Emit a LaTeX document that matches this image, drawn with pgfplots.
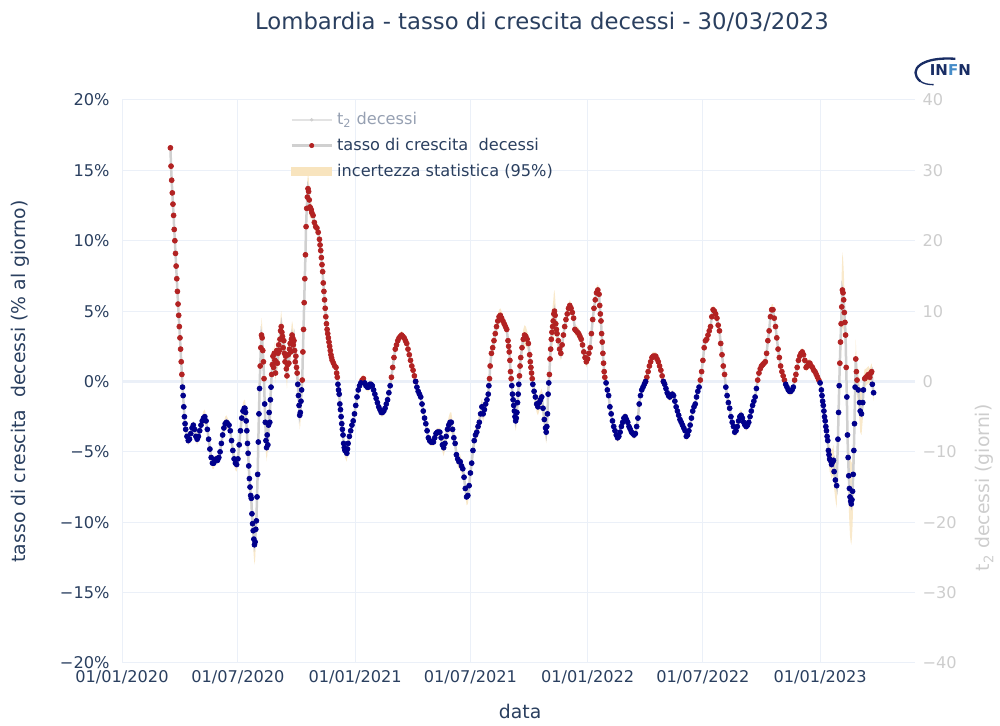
\documentclass[border=0pt]{standalone}
\usepackage{pgfplots}
\pgfplotsset{compat=1.18}
\usepackage{pgfplotstable}
\usepgfplotslibrary{fillbetween}
\usepackage{fontspec}
\setmainfont{DejaVu Sans}
\definecolor{textc}{RGB}{42,63,95}
\definecolor{gridc}{RGB}{235,240,248}
\definecolor{redc}{RGB}{178,34,34}
\definecolor{bluec}{RGB}{0,0,139}
\definecolor{linec}{RGB}{208,208,208}
\definecolor{bandc}{RGB}{248,228,190}
\definecolor{rightc}{RGB}{205,205,205}
\definecolor{legt2}{RGB}{150,160,178}
\definecolor{logob}{RGB}{25,45,100}
\definecolor{logol}{RGB}{70,140,200}

\pgfplotstableread[row sep=\\]{
d v e\\
76 16.6 .4\\77 15.3 .4\\78 14.3 .4\\79 13.4 .3\\80 12.6 .3\\81 11.8 .3\\82 10.8 .3\\83 10.0 .3\\84 9.1 .3\\85 8.2 .3\\86 7.3 .3\\87 6.4 .3\\88 5.5 .3\\89 4.7 .3\\90 3.9 .3\\91 3.1 .3\\92 2.3 .3\\93 1.4 .3\\94 0.5 .3\\95 -0.4 .3\\96 -1.0 .3\\97 -1.8 .3\\98 -2.5 .3\\99 -3.0 .3\\
100 -3.4 .3\\102 -3.9 .3\\104 -4.2 .3\\106 -4.1 .3\\108 -3.7 .3\\110 -3.3 .3\\112 -3.1 .3\\114 -3.4 .3\\116 -3.9 .4\\118 -4.1 .4\\120 -3.9 .3\\122 -3.5 .3\\124 -3.1 .3\\126 -2.8 .4\\128 -2.6 .5\\130 -2.5 .5\\132 -2.8 .4\\134 -3.4 .3\\136 -4.1 .3\\138 -4.8 .3\\140 -5.4 .4\\142 -5.8 .4\\144 -5.8 .4\\146 -5.6 .3\\148 -5.5 .3\\150 -5.6 .3\\152 -5.4 .3\\154 -5.0 .3\\156 -4.4 .3\\158 -3.8 .3\\160 -3.3 .4\\162 -3.0 .5\\164 -2.9 .5\\166 -3.0 .4\\168 -3.1 .3\\170 -3.5 .3\\172 -4.2 .3\\174 -4.9 .3\\176 -5.5 .4\\178 -5.8 .5\\180 -5.9 .5\\182 -5.5 .4\\184 -4.5 .4\\186 -3.5 .4\\188 -2.6 .5\\190 -2.1 .6\\192 -1.9 .6\\193 -1.9 .6\\
194 -2.2 .6\\195 -2.8 .6\\196 -3.5 .7\\197 -4.4 .7\\198 -5.1 .7\\199 -6.0 .8\\200 -6.9 .8\\201 -7.5 .9\\202 -8.1 .9\\203 -8.3 1.0\\204 -9.4 1.0\\205 -10.1 1.1\\206 -10.6 1.2\\207 -11.2 1.3\\208 -11.6 1.4\\209 -11.4 1.3\\210 -10.5 1.2\\211 -9.9 1.0\\212 -8.2 .9\\213 -6.6 .8\\214 -4.3 .8\\215 -2.3 .8\\216 -0.5 .8\\217 1.1 .9\\218 2.4 1.0\\219 3.3 1.2\\220 3.1 1.0\\221 2.2 .8\\222 1.4 .7\\223 0.2 .7\\224 -1.6 .8\\225 -2.9 .8\\226 -4.2 .9\\227 -4.7 1.0\\228 -3.8 .9\\229 -4.5 .9\\230 -3.1 .8\\231 -2.2 .7\\232 -2.9 .8\\233 -1.3 .7\\234 -0.4 .7\\235 0.5 .7\\236 1.2 .7\\237 1.8 .7\\238 1.0 .7\\239 2.0 .8\\240 1.5 .7\\241 0.6 .7\\242 1.4 .7\\243 2.2 .8\\244 1.3 .7\\245 2.0 .8\\246 2.6 .8\\247 2.2 .8\\248 3.0 .9\\249 3.6 1.0\\250 3.9 1.1\\251 3.5 1.0\\252 3.2 .9\\253 2.4 .8\\254 2.9 .9\\255 2.0 .8\\256 1.4 .8\\257 1.8 .8\\258 0.9 .8\\259 0.4 .9\\260 1.2 .8\\261 1.9 .8\\262 1.3 .8\\263 2.3 .8\\264 2.7 .9\\265 2.1 .8\\266 3.0 .9\\267 3.3 1.0\\268 3.1 1.0\\269 2.6 .9\\270 2.9 .9\\271 2.2 .8\\272 1.4 .8\\273 1.8 .8\\274 1.0 .8\\275 0.6 .8\\276 -0.2 .8\\277 -1.0 .9\\278 -1.7 .9\\279 -2.4 1.0\\280 -2.2 .9\\281 -1.4 .8\\282 -0.6 .7\\283 0.1 .7\\
284 2.1 .7\\285 3.7 .7\\286 5.6 .8\\287 7.3 .8\\288 9.0 .9\\289 11.0 1.0\\290 12.3 1.1\\291 13.1 1.2\\292 13.7 1.3\\293 13.5 1.1\\294 12.9 .9\\295 12.4 .8\\296 12.3 .7\\297 12.2 .6\\298 12.0 .5\\300 11.8 .5\\302 11.3 .4\\304 11.0 .4\\306 10.9 .4\\308 10.6 .4\\310 10.1 .3\\311 9.7 .3\\312 9.3 .3\\313 8.8 .3\\314 8.3 .3\\315 7.8 .3\\316 7.0 .3\\317 6.4 .3\\318 5.8 .3\\319 5.2 .3\\320 4.6 .3\\321 4.1 .3\\322 3.7 .3\\323 3.4 .3\\324 3.1 .3\\325 2.8 .3\\326 2.5 .3\\327 2.2 .3\\328 1.9 .3\\329 1.7 .3\\330 1.5 .3\\332 1.3 .3\\334 1.1 .3\\336 1.0 .3\\337 0.6 .3\\338 0.3 .3\\339 -0.2 .3\\340 -0.6 .3\\341 -0.9 .3\\342 -1.6 .3\\343 -2.0 .3\\344 -2.5 .3\\345 -3.0 .3\\346 -3.4 .3\\347 -3.8 .4\\348 -4.4 .4\\349 -4.7 .5\\350 -4.9 .5\\352 -5.0 .6\\353 -5.1 .6\\354 -4.8 .5\\355 -4.4 .4\\357 -3.9 .3\\359 -3.5 .3\\361 -3.1 .3\\363 -2.8 .3\\365 -2.3 .3\\367 -1.7 .3\\369 -1.1 .3\\371 -0.6 .3\\373 -0.3 .3\\375 -0.1 .3\\377 0.1 .3\\379 0.2 .3\\381 -0.1 .3\\383 -0.3 .3\\385 -0.4 .3\\387 -0.4 .3\\389 -0.2 .3\\391 -0.2 .3\\393 -0.3 .3\\395 -0.6 .3\\397 -0.9 .3\\399 -1.2 .3\\401 -1.5 .3\\403 -1.8 .3\\405 -2.0 .3\\407 -2.2 .3\\409 -2.2 .3\\411 -2.1 .3\\413 -1.9 .3\\415 -1.6 .3\\417 -1.3 .3\\419 -0.8 .3\\421 -0.3 .3\\423 0.3 .3\\425 1.0 .3\\427 1.7 .3\\429 2.3 .3\\431 2.6 .3\\433 2.9 .3\\435 3.1 .3\\437 3.2 .3\\439 3.3 .3\\441 3.2 .3\\443 3.1 .3\\445 2.9 .3\\447 2.7 .3\\449 2.3 .3\\451 1.9 .3\\453 1.5 .3\\455 1.1 .3\\457 0.8 .3\\459 0.4 .3\\461 0.0 .3\\463 -0.4 .3\\465 -0.7 .3\\467 -0.9 .3\\469 -1.1 .3\\471 -1.6 .3\\473 -2.1 .3\\475 -2.6 .3\\477 -3.0 .3\\479 -3.5 .3\\481 -4.0 .3\\483 -4.2 .3\\485 -4.3 .3\\487 -4.3 .3\\489 -4.3 .3\\491 -4.0 .3\\493 -3.7 .3\\495 -3.6 .3\\497 -3.6 .3\\499 -3.6 .3\\
501 -4.0 .4\\503 -4.5 .5\\505 -4.7 .6\\507 -4.4 .5\\509 -3.9 .5\\511 -3.4 .5\\513 -3.1 .6\\515 -2.9 .7\\517 -2.9 .7\\519 -3.4 .6\\521 -4.0 .5\\523 -4.4 .5\\525 -5.2 .5\\527 -5.5 .5\\529 -5.7 .5\\531 -5.7 .5\\533 -6.0 .5\\535 -6.2 .5\\537 -6.8 .5\\539 -7.6 .5\\541 -8.2 .6\\543 -8.1 .6\\545 -7.4 .5\\547 -6.5 .5\\549 -5.8 .5\\551 -4.9 .5\\553 -4.2 .5\\555 -3.8 .5\\557 -3.6 .6\\559 -3.2 .6\\561 -2.9 .6\\563 -2.3 .6\\565 -1.8 .6\\567 -2.3 .6\\569 -2.0 .5\\571 -1.6 .5\\573 -1.3 .5\\575 -0.9 .5\\576 -0.3 .5\\577 0.2 .5\\578 1.1 .5\\580 2.0 .5\\582 2.4 .5\\584 2.9 .5\\586 3.4 .5\\588 3.9 .5\\590 4.3 .5\\592 4.6 .5\\594 4.7 .5\\596 4.5 .5\\598 4.3 .4\\600 4.1 .4\\602 3.9 .4\\604 3.7 .4\\606 2.9 .5\\607 2.5 .5\\608 2.1 .5\\609 1.5 .5\\610 0.7 .5\\611 0.2 .5\\612 -0.3 .5\\613 -0.9 .5\\614 -1.3 .6\\615 -1.7 .6\\616 -2.1 .6\\617 -2.5 .7\\618 -2.8 .7\\619 -2.6 .7\\620 -2.2 .6\\621 -1.5 .6\\622 -0.9 .6\\623 -0.2 .6\\624 0.4 .6\\625 1.1 .6\\626 1.7 .6\\628 2.4 .7\\630 3.0 .7\\632 3.3 .7\\634 3.2 .7\\636 3.0 .6\\638 2.7 .6\\640 1.9 .6\\641 1.4 .6\\642 1.0 .6\\643 0.6 .6\\644 0.2 .6\\645 -0.2 .6\\647 -0.7 .6\\649 -1.1 .6\\651 -1.6 .6\\653 -1.8 .6\\655 -1.5 .6\\657 -1.3 .6\\659 -1.1 .6\\661 -1.9 .7\\663 -2.7 .7\\665 -3.3 .8\\666 -3.6 .8\\667 -3.2 .8\\668 -2.3 .8\\669 -0.9 .8\\670 -0.1 .8\\671 0.5 .9\\672 1.6 1.0\\673 2.3 1.1\\674 3.0 1.2\\675 3.5 1.3\\676 3.9 1.4\\677 4.3 1.4\\678 4.8 1.5\\679 5.0 1.5\\680 4.7 1.3\\681 4.1 1.1\\682 3.7 .9\\683 3.4 .8\\685 2.9 .6\\687 2.3 .5\\689 2.0 .5\\691 2.6 .4\\693 3.3 .4\\695 3.9 .4\\697 4.4 .4\\699 4.8 .4\\
701 5.2 .4\\703 5.4 .4\\705 5.2 .4\\707 4.9 .4\\709 4.5 .4\\711 3.7 .4\\713 3.6 .4\\715 3.5 .4\\717 3.4 .4\\719 3.2 .4\\721 3.0 .4\\723 2.6 .4\\725 2.1 .4\\727 1.7 .4\\729 1.4 .4\\731 1.6 .4\\733 2.0 .4\\735 2.4 .4\\737 3.4 .4\\739 4.4 .4\\741 5.2 .4\\743 5.8 .4\\745 6.3 .4\\747 6.5 .4\\749 6.2 .4\\750 5.4 .4\\751 4.8 .4\\752 4.3 .3\\753 3.4 .3\\754 2.8 .3\\755 2.0 .3\\756 1.3 .3\\757 0.7 .3\\758 0.3 .3\\760 -0.1 .3\\762 -0.6 .3\\764 -1.0 .3\\766 -1.8 .3\\768 -2.3 .3\\770 -2.8 .3\\772 -3.2 .3\\774 -3.5 .3\\776 -3.8 .3\\778 -4.0 .3\\780 -3.9 .3\\782 -3.6 .3\\784 -3.2 .3\\786 -2.9 .3\\788 -2.6 .3\\790 -2.5 .3\\792 -2.7 .3\\794 -2.9 .3\\796 -3.2 .3\\798 -3.4 .3\\800 -3.6 .3\\802 -3.7 .3\\804 -3.8 .3\\806 -3.7 .3\\808 -3.2 .3\\810 -2.6 .3\\812 -1.6 .3\\814 -1.0 .3\\816 -0.6 .3\\818 -0.4 .3\\820 -0.2 .3\\822 0.0 .3\\824 0.3 .3\\826 0.7 .3\\828 1.1 .3\\830 1.4 .3\\832 1.7 .3\\834 1.8 .3\\836 1.8 .3\\838 1.8 .3\\840 1.6 .3\\842 1.4 .3\\844 1.1 .3\\846 0.8 .3\\848 0.4 .3\\850 0.0 .3\\852 -0.2 .3\\854 -0.5 .3\\856 -0.8 .3\\858 -1.0 .3\\860 -1.1 .3\\862 -1.0 .3\\864 -0.9 .3\\866 -1.0 .3\\868 -1.4 .3\\870 -1.8 .3\\872 -2.1 .3\\874 -2.4 .3\\876 -2.7 .3\\878 -2.9 .3\\880 -3.1 .3\\882 -3.3 .3\\884 -3.5 .3\\886 -3.9 .3\\888 -3.8 .3\\890 -3.5 .3\\892 -3.1 .3\\894 -2.6 .3\\896 -2.1 .3\\898 -1.8 .3\\
900 -1.6 .3\\902 -1.1 .3\\904 -0.7 .3\\906 -0.4 .3\\908 0.1 .3\\910 0.7 .3\\912 1.5 .3\\914 2.4 .3\\916 2.9 .3\\918 3.0 .3\\920 3.3 .3\\922 3.6 .3\\924 3.9 .3\\926 4.6 .3\\928 5.1 .3\\930 5.0 .3\\932 4.8 .3\\934 4.5 .3\\936 4.0 .3\\938 3.6 .3\\940 2.7 .3\\942 1.9 .3\\944 1.1 .3\\946 0.5 .3\\948 -0.4 .3\\950 -1.0 .3\\952 -1.5 .3\\954 -1.9 .3\\956 -2.5 .3\\958 -2.9 .3\\960 -3.2 .3\\962 -3.6 .3\\964 -3.5 .4\\966 -3.2 .4\\968 -2.8 .4\\970 -2.5 .4\\972 -2.4 .4\\974 -2.6 .3\\976 -2.9 .3\\978 -3.1 .3\\980 -3.2 .3\\982 -3.1 .3\\984 -2.9 .3\\986 -2.5 .3\\988 -2.1 .3\\990 -1.7 .3\\992 -1.4 .3\\994 -1.1 .3\\996 -0.5 .3\\998 0.1 .3\\1000 0.6 .3\\1002 0.9 .3\\1004 1.1 .3\\1006 1.2 .3\\1008 1.3 .3\\1010 1.4 .3\\1012 2.0 .3\\1014 2.9 .3\\1016 3.6 .3\\1018 4.6 .4\\1020 5.1 .4\\1022 5.1 .4\\1024 4.5 .4\\1026 3.9 .3\\1028 3.1 .3\\1030 2.3 .3\\1032 1.7 .3\\1034 1.1 .3\\1036 0.7 .3\\1038 0.4 .3\\1040 0.1 .3\\1042 -0.2 .3\\1044 -0.4 .3\\1046 -0.6 .3\\1048 -0.7 .3\\1050 -0.7 .3\\1052 -0.6 .3\\1054 -0.4 .3\\1056 0.1 .3\\1058 0.5 .3\\1060 1.0 .3\\1062 1.5 .3\\1064 1.8 .3\\1066 2.0 .3\\1068 2.1 .3\\1070 1.9 .3\\1072 1.5 .3\\1074 1.0 .3\\1076 1.1 .3\\1078 1.3 .3\\1080 1.3 .3\\1082 1.1 .3\\1084 1.0 .3\\1086 0.8 .3\\1088 0.7 .3\\1090 0.5 .3\\1092 0.3 .3\\1094 0.1 .3\\1096 -0.1 .3\\1098 -0.6 .3\\
1099 -1.0 .4\\1100 -1.4 .4\\1101 -1.7 .4\\1102 -2.1 .5\\1103 -2.5 .5\\1104 -2.8 .5\\1105 -3.2 .6\\1106 -3.5 .6\\1107 -3.9 .7\\1108 -4.2 .7\\1109 -4.9 .8\\1110 -5.2 .8\\1111 -5.5 .9\\1112 -5.6 .9\\1114 -5.9 1.0\\1116 -5.7 1.0\\1117 -5.6 1.1\\1118 -6.4 1.2\\1120 -7.0 1.4\\1122 -7.4 1.6\\1124 -4.1 1.2\\1125 -2.2 1.0\\1126 -0.3 1.0\\1127 1.3 1.3\\1128 2.8 1.7\\1129 4.1 2.1\\1130 5.3 2.5\\1131 6.5 2.7\\1132 6.3 2.5\\1133 5.8 2.2\\1134 4.9 1.8\\1135 4.2 1.5\\1136 3.3 1.3\\1137 1.0 1.0\\1138 -1.1 1.0\\1139 -3.8 1.4\\1140 -5.4 1.8\\1141 -6.7 2.2\\1142 -7.6 2.5\\1143 -8.2 2.8\\1144 -8.5 2.9\\1145 -8.7 2.9\\1146 -8.4 2.7\\1147 -7.8 2.4\\1148 -6.6 2.0\\1149 -4.9 1.6\\1150 -3.0 1.3\\1151 -0.4 1.2\\1152 1.6 1.4\\1153 0.7 1.2\\1154 0.1 1.1\\1156 -0.6 1.2\\1158 -1.5 1.4\\1159 -2.1 1.5\\1161 -2.3 1.5\\1163 -1.5 1.2\\1164 -0.6 .9\\1166 0.2 .7\\1168 0.3 .6\\1170 0.4 .6\\1172 0.5 .6\\1174 0.3 .6\\1176 0.6 .6\\1177 0.7 .6\\1178 -0.2 .6\\1180 -0.8 .6\\
}\data

\begin{document}
\begin{tikzpicture}
\begin{axis}[
  scale only axis, width=475.8pt, height=337.8pt,
  xmin=0, xmax=1245, ymin=-20, ymax=20,
  xtick={0,182,366,547,731,912,1096},
  xticklabels={01/01/2020,01/07/2020,01/01/2021,01/07/2021,01/01/2022,01/07/2022,01/01/2023},
  ytick={-20,-15,-10,-5,0,5,10,15,20},
  yticklabels={−20\%,−15\%,−10\%,−5\%,0\%,5\%,10\%,15\%,20\%},
  extra y ticks={0}, extra y tick labels={},
  extra y tick style={grid=major, major grid style={gridc, line width=1.3pt}},
  grid=major, major grid style={gridc, line width=0.6pt},
  axis line style={draw=none}, major tick length=0pt,
  tick label style={textc, font=\fontsize{9.7}{11}\selectfont},
  yticklabel style={xshift=-4pt},
  xticklabel style={yshift=-1pt},
  xlabel={data}, ylabel={tasso di crescita~ decessi (\% al giorno)},
  label style={textc, font=\fontsize{11.3}{13}\selectfont},
  xlabel style={at={(axis description cs:0.502,-0.087)}, anchor=center},
  ylabel style={at={(axis description cs:-0.1286,0.5)}, anchor=center},
  legend style={at={(0.212,0.986)}, anchor=north west, draw=none, fill=none,
    font=\fontsize{9.7}{11}\selectfont, text=textc, row sep=1.6pt,
    inner sep=0pt, nodes={inner sep=2.5pt}},
  legend cell align=left,
]
\addlegendimage{legend image code/.code={\draw[linec!60, line width=1.5pt] (0pt,0pt) -- (24pt,0pt); \fill[linec] (12pt,0pt) circle (0.8pt);}}
\addlegendentry{\textcolor{legt2}{t\textsubscript{2} decessi}}
\addlegendimage{legend image code/.code={\draw[linec, line width=1.5pt] (0pt,0pt) -- (24pt,0pt); \fill[redc] (12pt,0pt) circle (1.3pt);}}
\addlegendentry{tasso di crescita~ decessi}
\addlegendimage{legend image code/.code={\fill[bandc] (0pt,-2.4pt) rectangle (24pt,2.4pt);}}
\addlegendentry{incertezza statistica (95\%)}

\addplot[name path=up, draw=none, forget plot] table[x=d, y expr=\thisrow{v}+\thisrow{e}] {\data};
\addplot[name path=lo, draw=none, forget plot] table[x=d, y expr=\thisrow{v}-\thisrow{e}] {\data};
\addplot[fill=bandc, fill opacity=0.8, draw=none, forget plot] fill between[of=up and lo];
\addplot[linec, line width=1.5pt, forget plot] table[x=d, y=v] {\data};
\addplot[only marks, mark=*, mark size=1.5pt, redc, restrict y to domain=0:40, forget plot] table[x=d, y=v] {\data};
\addplot[only marks, mark=*, mark size=1.5pt, bluec, restrict y to domain=-40:0, forget plot] table[x=d, y=v] {\data};
\end{axis}

\begin{axis}[
  scale only axis, width=475.8pt, height=337.8pt,
  xmin=0, xmax=1245, ymin=-40, ymax=40,
  axis x line=none, axis y line*=right,
  axis line style={draw=none}, major tick length=0pt,
  ytick={-40,-30,-20,-10,0,10,20,30,40},
  yticklabels={−40,−30,−20,−10,0,10,20,30,40},
  yticklabel style={rightc, font=\fontsize{9.7}{11}\selectfont, xshift=1pt},
  ylabel={t\textsubscript{2} decessi (giorni)},
  ylabel style={rightc, font=\fontsize{11.3}{13}\selectfont, at={(axis description cs:1.088,0.311)}, anchor=center},
]
\end{axis}

\node[textc, font=\fontsize{13.65}{16}\selectfont] at (252pt,384.6pt) {Lombardia - tasso di crescita decessi - 30/03/2023};
\node[font=\bfseries\fontsize{9}{10}\selectfont, inner sep=0pt] at (497pt,355.5pt) {\textcolor{logob}{IN}\textcolor{logol}{F}\textcolor{logob}{N}};
\draw[logob, line width=1.4pt] (500pt,362.5pt) .. controls (480pt,364pt) and (471pt,356pt) .. (479pt,349pt);
\draw[logob, line width=0.8pt] (479pt,349pt) .. controls (481pt,347.5pt) and (484pt,347pt) .. (487pt,347pt);

\pgfresetboundingbox
\path[use as bounding box] (-73.2pt,-37.8pt) rectangle (526.8pt,397.8pt);
\end{tikzpicture}
\end{document}
